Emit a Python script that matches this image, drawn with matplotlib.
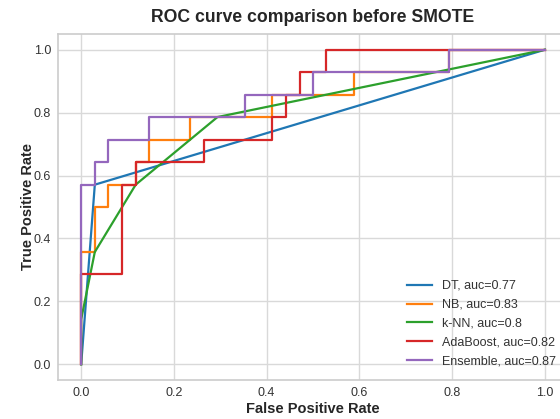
import matplotlib
matplotlib.use("Agg")
import matplotlib.pyplot as plt

# ---- data ----
dt_fpr = [0.0, 0.0294, 1.0]
dt_tpr = [0.0, 0.571, 1.0]

nb_fpr = [0.0, 0.0, 0.0294, 0.0294, 0.0588, 0.0588, 0.1176, 0.1176, 0.147, 0.147,
          0.235, 0.235, 0.412, 0.412, 0.588, 0.588, 0.794, 0.794, 1.0]
nb_tpr = [0.0, 0.357, 0.357, 0.5, 0.5, 0.571, 0.571, 0.643, 0.643, 0.714,
          0.714, 0.786, 0.786, 0.857, 0.857, 0.929, 0.929, 1.0, 1.0]

knn_fpr = [0.0, 0.0, 0.0294, 0.1176, 0.294, 1.0]
knn_tpr = [0.0, 0.143, 0.357, 0.571, 0.786, 1.0]

ada_fpr = [0.0, 0.0, 0.0882, 0.0882, 0.1176, 0.1176, 0.265, 0.265, 0.412, 0.412,
           0.441, 0.441, 0.471, 0.471, 0.529, 0.529, 1.0]
ada_tpr = [0.0, 0.286, 0.286, 0.571, 0.571, 0.643, 0.643, 0.714, 0.714, 0.786,
           0.786, 0.857, 0.857, 0.929, 0.929, 1.0, 1.0]

ens_fpr = [0.0, 0.0, 0.0294, 0.0294, 0.0588, 0.0588, 0.147, 0.147, 0.353, 0.353,
           0.5, 0.5, 0.794, 0.794, 1.0]
ens_tpr = [0.0, 0.571, 0.571, 0.643, 0.643, 0.714, 0.714, 0.786, 0.786, 0.857,
           0.857, 0.929, 0.929, 1.0, 1.0]

labels = ["DT, auc=0.77", "NB, auc=0.83", "k-NN, auc=0.8",
          "AdaBoost, auc=0.82", "Ensemble, auc=0.87"]
colors = ["#1f77b4", "#ff7f0e", "#2ca02c", "#d62728", "#9467bd"]

plt.rcParams['font.family'] = ['Liberation Sans', 'DejaVu Sans']

fig = plt.figure(figsize=(5.6, 4.19), dpi=100)
ax = fig.add_axes([58 / 560, 1 - 380 / 419, 510 / 560, 346 / 419])
ax.set_facecolor("white")

curves = [(dt_fpr, dt_tpr), (nb_fpr, nb_tpr), (knn_fpr, knn_tpr),
          (ada_fpr, ada_tpr), (ens_fpr, ens_tpr)]
for (f, t), lab, c in zip(curves, labels, colors):
    ax.plot(f, t, color=c, lw=1.6, label=lab)

ax.set_xlim(-0.05, 1.05)
ax.set_ylim(-0.05, 1.05)
ax.set_xticks([0.0, 0.2, 0.4, 0.6, 0.8, 1.0])
ax.set_yticks([0.0, 0.2, 0.4, 0.6, 0.8, 1.0])
ax.grid(True, color="#d9d9d9", lw=1.0)
ax.set_axisbelow(True)
for s in ax.spines.values():
    s.set_color("#cccccc")
    s.set_linewidth(1.2)
ax.tick_params(length=0, labelsize=9, labelcolor="#333333", pad=5)

ax.set_xlabel("False Positive Rate", fontsize=10.5, fontweight="bold", color="#262626", labelpad=2)
ax.set_ylabel("True Positive Rate", fontsize=10.5, fontweight="bold", color="#262626", labelpad=-1)
ax.set_title("ROC curve comparison before SMOTE", fontsize=12.7, fontweight="bold",
             color="#262626", pad=8.5)

leg = ax.legend(loc="lower right", frameon=False, fontsize=9, labelspacing=0.55,
                borderaxespad=0.6)
for txt in leg.get_texts():
    txt.set_color("#333333")

fig.savefig("out.png", dpi=100, facecolor="white")
